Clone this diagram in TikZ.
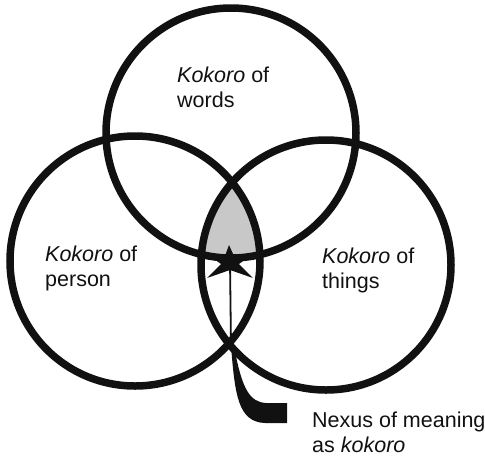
\documentclass[tikz,border=0pt]{standalone}
\usepackage{fontspec}
\setmainfont{Liberation Sans}
\usepackage{xcolor}
\usepackage{tikz}
\usetikzlibrary{positioning, calc, backgrounds}
\definecolor{lensgray}{HTML}{C8C8C8}
\definecolor{inkblack}{HTML}{111111}
\tikzstyle{venn} = [circle, draw=inkblack, line width=7.5pt, minimum size=250pt, inner sep=0pt]
\tikzstyle{vennlabel} = [anchor=base west, align=left, inner sep=0pt, text=inkblack, font=\fontsize{21.5}{25}\selectfont]
\tikzstyle{pointer} = [line width=1.8pt, draw=inkblack]

\begin{document}
\begin{tikzpicture}[x=1pt, y=-1pt]
    \useasboundingbox (0,0) rectangle (485,459);
    \node[venn] (words) at (231,133) {};
    \node[venn] (person) at (135,261) {};
    \node[venn] (things) at (326,265) {};

    \begin{scope}[on background layer]
        \clip (words.center) circle (125);
        \clip (person.center) circle (125);
        \fill[lensgray] (things.center) circle (125);
    \end{scope}

    \node[vennlabel] (wordstext) at (177,107) {\textit{Kokoro} of\\words};
    \node[vennlabel] (persontext) at (45,286) {\textit{Kokoro} of\\person};
    \node[vennlabel] (thingstext) at (322,288) {\textit{Kokoro} of\\things};
    \node[vennlabel] (nexus) at (312,452) {Nexus of meaning\\as \textit{kokoro}};

    \coordinate (star) at (230,261);
    \coordinate (junction) at (231,346);
    \coordinate (tailend) at (287,413);
    \draw[pointer] (junction) -- (star);
    \fill[inkblack, shift={(star)}] (-1,-16) -- (4,-5) -- (20,-5) -- (9,3) -- (23,17) -- (0,9) -- (-23,17) -- (-9,3) -- (-20,-5) -- (-5,-5) -- cycle;
    \fill[inkblack] (junction) .. controls (235,395) and (238,422) .. (265,423) -- ($(tailend)+(0,10)$) -- ($(tailend)+(0,-10)$) -- (266,403) .. controls (250,402) and (242,390) .. ($(junction)+(3,0)$) -- cycle;
\end{tikzpicture}
\end{document}
